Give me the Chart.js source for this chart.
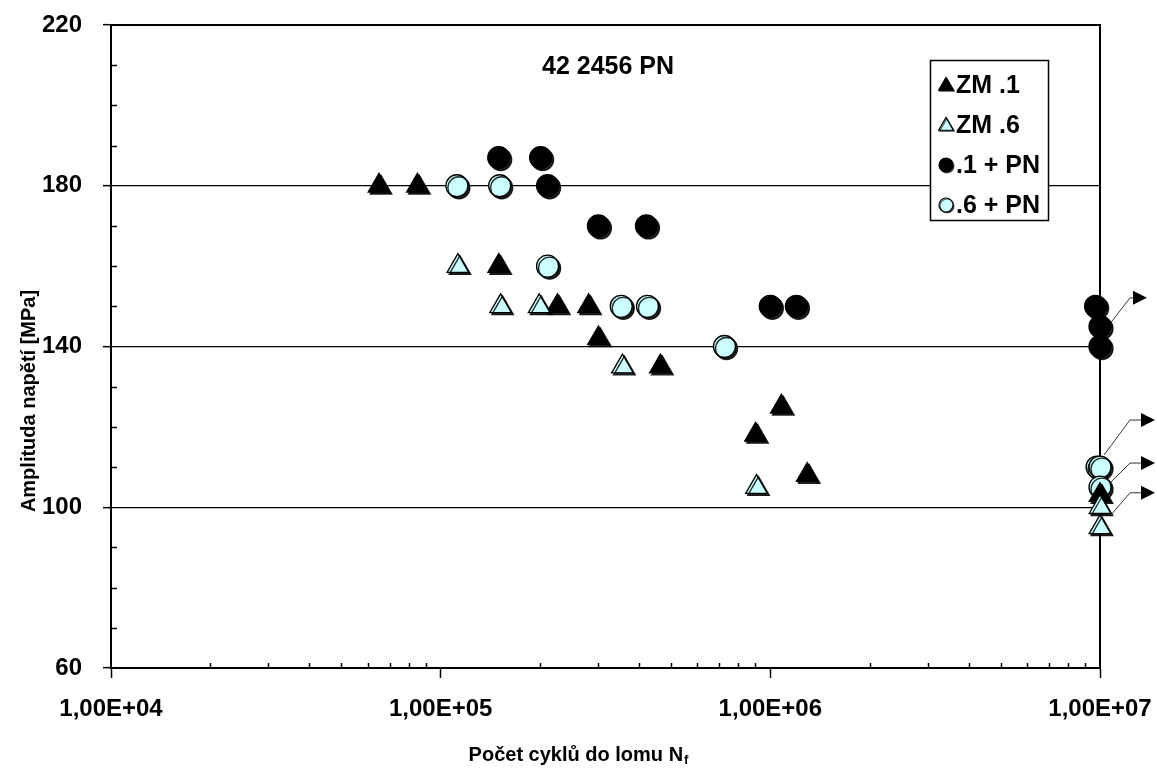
<!DOCTYPE html>
<html><head><meta charset="utf-8">
<script src="https://cdn.jsdelivr.net/npm/chart.js@4/dist/chart.umd.min.js"></script>
<style>html,body{margin:0;padding:0;background:#fff;}#wrap{width:1157px;height:769px;position:relative;}</style>
</head><body><div id="wrap"><canvas id="c"></canvas></div>
<script>
// ---- data ----
const chartTitle = '42 2456 PN';
const xAxisTitle = 'Počet cyklů do lomu N';
const xAxisTitleSub = 'f';
const yAxisTitle = 'Amplituda napětí [MPa]';
const xTickValues = [1e4, 1e5, 1e6, 1e7];
const yTickValues = [60, 100, 140, 180, 220];
const seriesNames = ['ZM .1', 'ZM .6', '.1 + PN', '.6 + PN'];

const zm1Cycles = [65000, 85000, 150000, 226000, 281000, 301000, 464000, 902000, 1080000, 1294000, 1e7];
const zm1Stress = [180, 180, 160, 150, 150, 142, 135, 118, 125, 108, 103];

const zm6Cycles = [112800, 152000, 199000, 356000, 908000, 1e7, 1e7];
const zm6Stress = [160, 150, 150, 135, 105, 100, 95];

const pn1Cycles = [150000, 201000, 211000, 301000, 421000, 1000000, 1200000, 9.7e6, 1e7, 1e7];
const pn1Stress = [187, 187, 180, 170, 170, 150, 150, 150, 145, 140];

const pn6Cycles = [112000, 151000, 211000, 353000, 424000, 726000, 9.8e6, 1e7, 1e7];
const pn6Stress = [180, 180, 160, 150, 150, 140, 110, 110, 105];

// run-out arrows: [start stress, bend stress] anchored at N = 1e7
const runoutStart = [146, 113, 106.3, 98.1];
const runoutBend = [152.1, 121.7, 111, 103.6];

// ---- styling ----
const FONT = "'Liberation Sans', Arial, sans-serif";
const CYAN = '#CCFFFF';
const toPts = (xs, ys) => xs.map((x, i) => ({ x: x, y: ys[i] }));
const fmtExp = v => {
  const e = Math.round(Math.log10(v));
  return '1,00E+' + (e < 10 ? '0' + e : String(e));
};

const styles = [
  { style: 'triangle', fill: '#000', r: 12.5 },
  { style: 'triangle', fill: CYAN, r: 12.5 },
  { style: 'circle', fill: '#000', r: 11 },
  { style: 'circle', fill: CYAN, r: 11 }
];
const seriesData = [toPts(zm1Cycles, zm1Stress), toPts(zm6Cycles, zm6Stress), toPts(pn1Cycles, pn1Stress), toPts(pn6Cycles, pn6Stress)];
const drawOrder = [1, 0, 2, 3];

const datasets = drawOrder.map(i => ({
  label: seriesNames[i],
  data: seriesData[i],
  pointStyle: styles[i].style,
  pointRadius: styles[i].r,
  pointBackgroundColor: styles[i].fill,
  pointBorderColor: '#000',
  pointBorderWidth: 1.3,
  showLine: false,
  clip: false
}));

function drawMarker(ctx, style, x, y, r, fill) {
  ctx.beginPath();
  if (style === 'triangle') {
    for (let k = 0; k < 3; k++) {
      const a = k * 2 * Math.PI / 3;
      const px = x + Math.sin(a) * r, py = y - Math.cos(a) * r;
      if (k === 0) ctx.moveTo(px, py); else ctx.lineTo(px, py);
    }
    ctx.closePath();
  } else {
    ctx.arc(x, y, r, 0, Math.PI * 2);
  }
  ctx.fillStyle = fill;
  ctx.fill();
  ctx.lineWidth = 1.2;
  ctx.strokeStyle = '#000';
  ctx.stroke();
}

const shadowPlugin = {
  id: 'shadow',
  beforeDatasetDraw(chart) {
    const ctx = chart.ctx;
    ctx.save();
    ctx.shadowColor = 'rgba(0,0,0,0.85)';
    ctx.shadowOffsetX = 2;
    ctx.shadowOffsetY = 2;
    ctx.shadowBlur = 0;
  },
  afterDatasetDraw(chart) { chart.ctx.restore(); }
};

const framePlugin = {
  id: 'frame',
  beforeDatasetsDraw(chart) {
    const { ctx, chartArea: a, scales } = chart;
    ctx.save();
    ctx.strokeStyle = '#000';
    ctx.lineWidth = 2;
    ctx.strokeRect(a.left, a.top, a.right - a.left, a.bottom - a.top);
    ctx.lineWidth = 1.5;
    for (let d = 0; d < xTickValues.length - 1; d++) {
      for (let k = 2; k <= 9; k++) {
        const px = Math.round(scales.x.getPixelForValue(k * xTickValues[d])) + 0.5;
        ctx.beginPath(); ctx.moveTo(px, a.bottom); ctx.lineTo(px, a.bottom - 5); ctx.stroke();
      }
    }
    for (let v = yTickValues[0] + 10; v < yTickValues[yTickValues.length - 1]; v += 10) {
      if (yTickValues.includes(v)) continue;
      const py = Math.round(scales.y.getPixelForValue(v)) + 0.5;
      ctx.beginPath(); ctx.moveTo(a.left, py); ctx.lineTo(a.left + 6, py); ctx.stroke();
    }
    ctx.restore();
  }
};

const decorPlugin = {
  id: 'decor',
  afterDraw(chart) {
    const { ctx, scales } = chart;
    ctx.save();
    ctx.fillStyle = '#000';
    ctx.font = 'bold 25px ' + FONT;
    ctx.textAlign = 'center';
    ctx.textBaseline = 'alphabetic';
    ctx.fillText(chartTitle, 608, 74);
    // x axis title with subscript
    ctx.font = 'bold 20px ' + FONT;
    const w1 = ctx.measureText(xAxisTitle).width;
    ctx.font = 'bold 13px ' + FONT;
    const w2 = ctx.measureText(xAxisTitleSub).width;
    const startX = 578 - (w1 + w2) / 2;
    ctx.textAlign = 'left';
    ctx.font = 'bold 20px ' + FONT;
    ctx.fillText(xAxisTitle, startX, 761);
    ctx.font = 'bold 13px ' + FONT;
    ctx.fillText(xAxisTitleSub, startX + w1 + 1, 764);
    // y axis title
    ctx.save();
    ctx.translate(35, 401);
    ctx.rotate(-Math.PI / 2);
    ctx.font = 'bold 20px ' + FONT;
    ctx.textAlign = 'center';
    ctx.textBaseline = 'alphabetic';
    ctx.fillText(yAxisTitle, 0, 0);
    ctx.restore();

    // run-out arrows
    const x0 = scales.x.getPixelForValue(xTickValues[xTickValues.length - 1]);
    ctx.strokeStyle = '#333';
    ctx.lineWidth = 1;
    runoutStart.forEach((s, i) => {
      const ys = scales.y.getPixelForValue(s);
      const yb = scales.y.getPixelForValue(runoutBend[i]);
      const tip = i === 0 ? x0 + 47 : x0 + 55;
      const sx = i === 1 ? x0 + 4 : x0 + 11;
      ctx.beginPath();
      ctx.moveTo(sx, ys);
      ctx.lineTo(x0 + 30, yb);
      ctx.lineTo(tip - 11, yb);
      ctx.stroke();
      ctx.beginPath();
      ctx.moveTo(tip, yb);
      ctx.lineTo(tip - 14, yb - 7);
      ctx.lineTo(tip - 14, yb + 7);
      ctx.closePath();
      ctx.fillStyle = '#000';
      ctx.fill();
    });

    // legend
    const lx = 930, ly = 60, lw = 118, lh = 160;
    ctx.fillStyle = '#fff';
    ctx.fillRect(lx, ly, lw, lh);
    ctx.strokeStyle = '#000';
    ctx.lineWidth = 1.5;
    ctx.strokeRect(lx + 0.5, ly + 0.5, lw, lh);
    seriesNames.forEach((name, i) => {
      const cy = ly + 25 + i * 40;
      ctx.save();
      ctx.shadowColor = 'rgba(0,0,0,0.6)';
      ctx.shadowOffsetX = 1; ctx.shadowOffsetY = 1;
      if (styles[i].style === 'triangle') drawMarker(ctx, 'triangle', lx + 16, cy + 1, 8.5, styles[i].fill);
      else drawMarker(ctx, 'circle', lx + 16, cy, 7, styles[i].fill);
      ctx.restore();
      ctx.fillStyle = '#000';
      ctx.font = 'bold 25px ' + FONT;
      ctx.textAlign = 'left';
      ctx.textBaseline = 'middle';
      ctx.fillText(name, lx + 26, cy + 1);
    });
    ctx.restore();
  }
};

new Chart(document.getElementById('c'), {
  type: 'scatter',
  data: { datasets: datasets },
  options: {
    responsive: true,
    maintainAspectRatio: false,
    animation: false,
    events: [],
    layout: { padding: { left: 0, right: 57, top: 25, bottom: 0 } },
    plugins: { legend: { display: false }, tooltip: { enabled: false }, title: { display: false } },
    scales: {
      x: {
        type: 'logarithmic', min: 1e4, max: 1e7,
        afterBuildTicks: s => { s.ticks = xTickValues.map(v => ({ value: v, major: true })); },
        ticks: { callback: v => fmtExp(v), font: { family: FONT, size: 24, weight: 'bold' }, color: '#000', maxRotation: 0, autoSkip: false, padding: 17 },
        grid: { display: true, drawOnChartArea: false, drawTicks: true, tickLength: 10, tickColor: '#000', tickWidth: 1.5, color: '#000' },
        border: { display: true, color: '#000', width: 2 },
        afterFit: s => { s.height = 101; s.paddingLeft = 0; s.paddingRight = 0; }
      },
      y: {
        type: 'linear', min: 60, max: 220,
        afterBuildTicks: s => { s.ticks = yTickValues.map(v => ({ value: v })); },
        ticks: { callback: v => String(v), font: { family: FONT, size: 24, weight: 'bold' }, color: '#000', padding: 21 },
        grid: { display: true, drawOnChartArea: true, color: '#000', lineWidth: 1.3, drawTicks: true, tickLength: 8, tickColor: '#000', tickWidth: 1.5 },
        border: { display: true, color: '#000', width: 2 },
        afterFit: s => { s.width = 111; s.paddingTop = 0; s.paddingBottom = 0; }
      }
    }
  },
  plugins: [shadowPlugin, framePlugin, decorPlugin]
});
</script>
</body></html>
